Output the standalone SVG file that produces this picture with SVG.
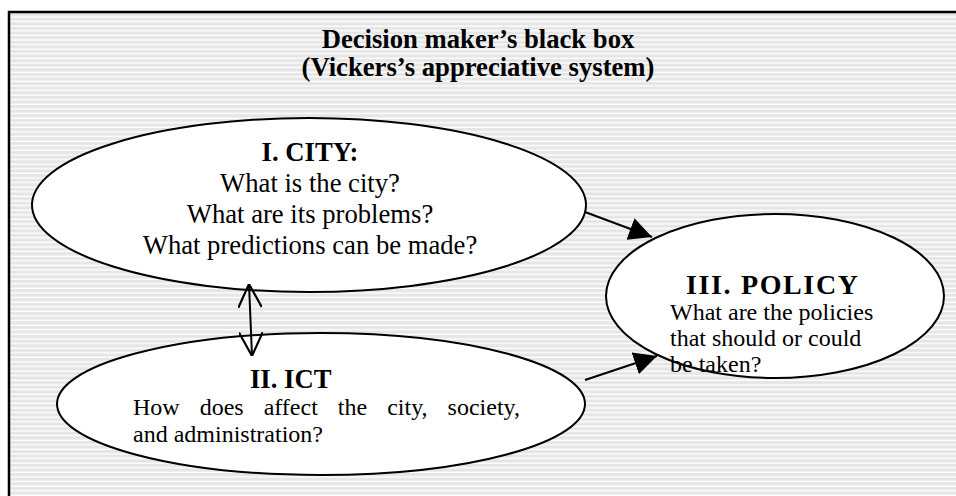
<svg xmlns="http://www.w3.org/2000/svg" width="956" height="496" viewBox="0 0 956 496">
<defs>
<pattern id="stripes" patternUnits="userSpaceOnUse" x="0" y="13" width="10" height="4.6">
<rect x="0" y="0" width="10" height="4.6" fill="#ffffff"/>
<rect x="0" y="0" width="10" height="3.3" fill="#e6e6e6"/>
</pattern>
<marker id="solid" viewBox="0 0 10 10" refX="10" refY="5" markerWidth="23" markerHeight="23" markerUnits="userSpaceOnUse" orient="auto">
<path d="M0,0 L10,5 L0,10 Z" fill="#000"/>
</marker>
<marker id="open" viewBox="0 0 10 10" refX="10" refY="5" markerWidth="24" markerHeight="24" markerUnits="userSpaceOnUse" orient="auto-start-reverse">
<path d="M0,0 L10,5 L0,10" fill="none" stroke="#000" stroke-width="0.9"/>
</marker>
</defs>
<style>
.node ellipse{fill:#fff;stroke:#000;stroke-width:2}
text{font-family:"Liberation Serif","Times New Roman",serif;font-size:26.67px;fill:#000}
.s{font-size:24px}
.h{font-size:28px}
.b{font-weight:bold}
.c{text-anchor:middle}
.conn line{stroke:#000;stroke-width:2}
</style>
<rect x="0" y="0" width="956" height="496" fill="#fff"/>
<rect id="frame" x="9" y="12" width="960" height="500" fill="url(#stripes)" stroke="#000" stroke-width="2.5"/>
<g id="title">
<text class="b c" x="478" y="48">Decision maker’s black box</text>
<text class="b c" x="478" y="76">(Vickers’s appreciative system)</text>
</g>
<g id="city" class="node">
<ellipse cx="309" cy="205" rx="277" ry="87"/>
<text class="b c" x="310" y="161">I. CITY:</text>
<text class="c" x="310" y="192">What is the city?</text>
<text class="c" x="310" y="223">What are its problems?</text>
<text class="c" x="310" y="254">What predictions can be made?</text>
</g>
<g id="ict" class="node">
<ellipse cx="321" cy="404" rx="264" ry="71"/>
<text class="b" x="250" y="388">II. ICT</text>
<text class="s" x="133" y="415" word-spacing="14">How does affect the city, society,</text>
<text class="s" x="133" y="442">and administration?</text>
</g>
<g id="policy" class="node">
<ellipse cx="775" cy="296" rx="169" ry="82"/>
<text class="b h" x="686" y="294" textLength="172" lengthAdjust="spacing">III. POLICY</text>
<text class="s" x="670" y="320">What are the policies</text>
<text class="s" x="670" y="346">that should or could</text>
<text class="s" x="670" y="372">be taken?</text>
</g>
<g id="connectors" class="conn">
<line x1="585" y1="212" x2="652" y2="237" marker-end="url(#solid)"/>
<line x1="585" y1="380" x2="657" y2="356" marker-end="url(#solid)"/>
<line x1="249" y1="284" x2="252" y2="356" marker-start="url(#open)" marker-end="url(#open)"/>
</g>
</svg>
